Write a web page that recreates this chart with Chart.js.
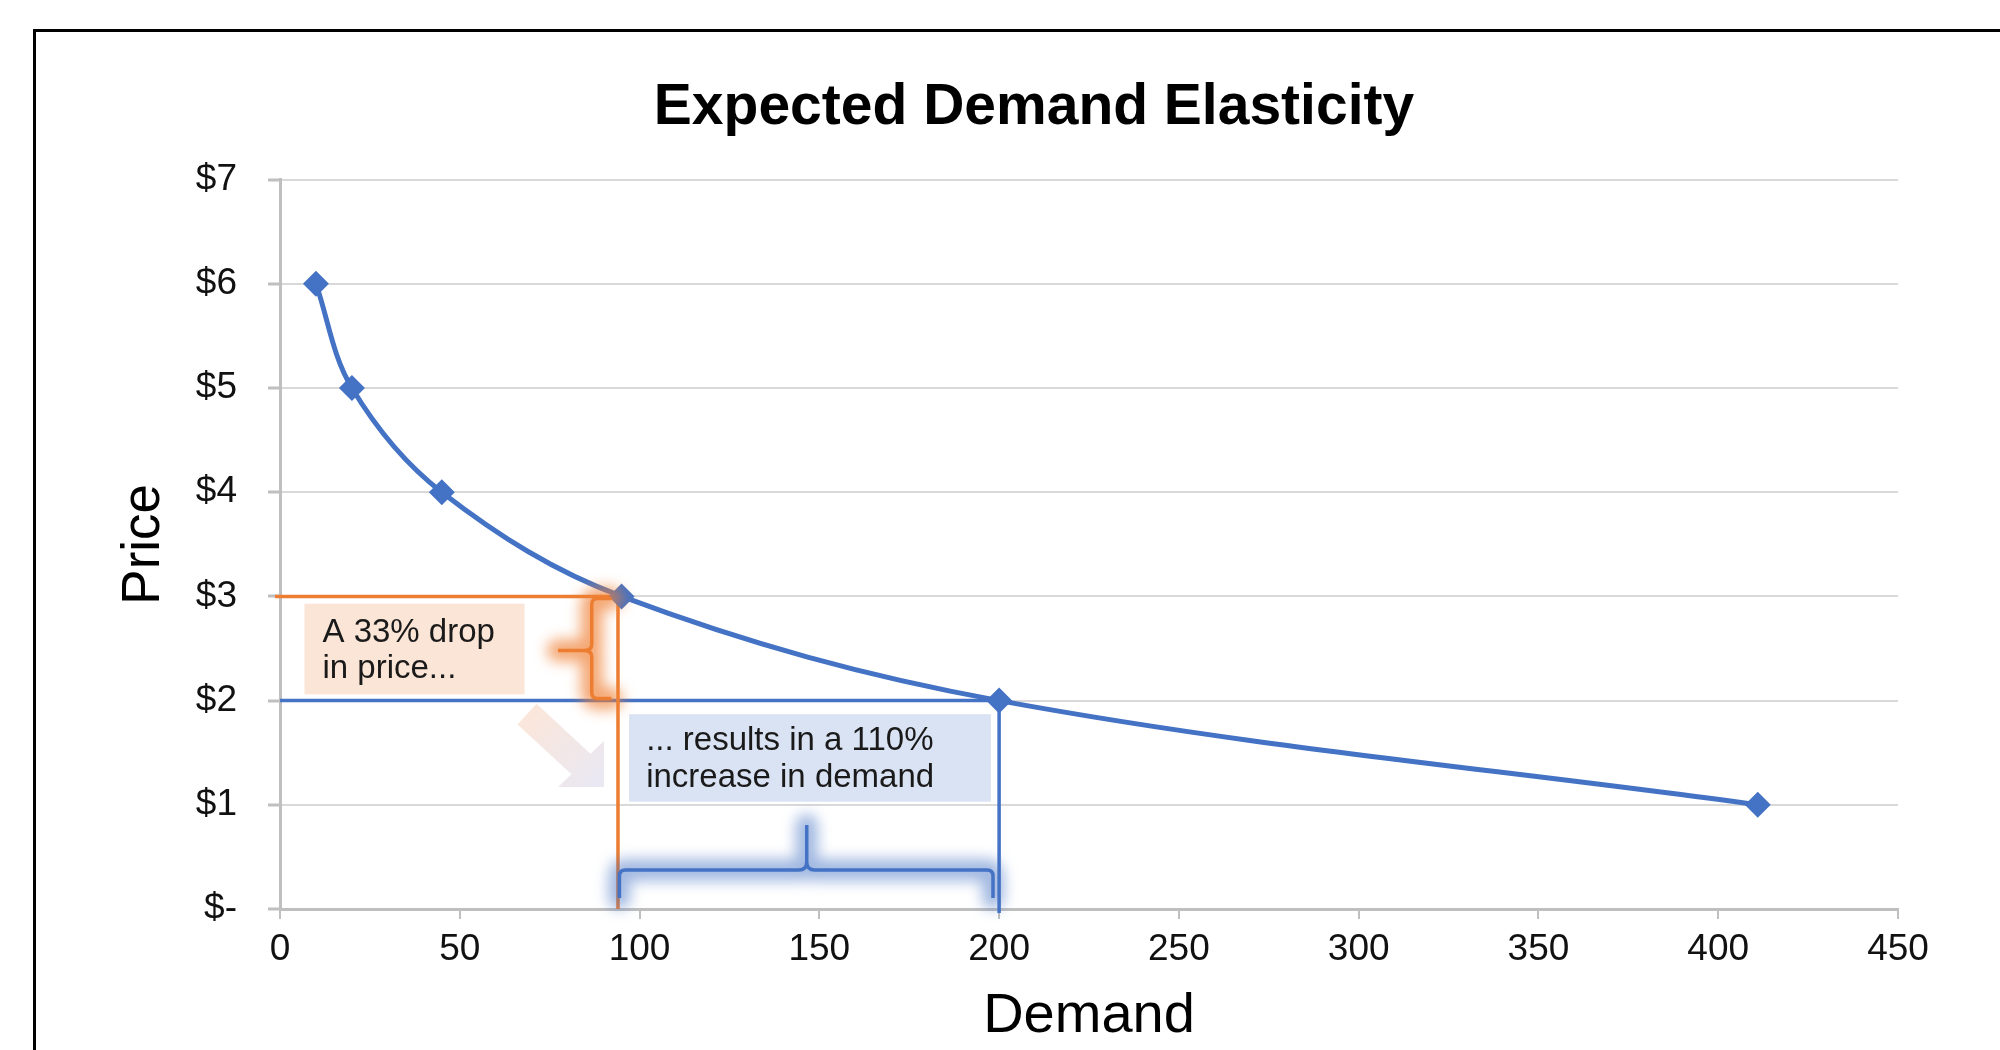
<!DOCTYPE html>
<html>
<head>
<meta charset="utf-8">
<script src="https://cdn.jsdelivr.net/npm/chart.js@4/dist/chart.umd.min.js"></script>
<style>
  html, body { margin: 0; padding: 0; background: #fff; overflow: hidden; }
  #wrap { position: absolute; left: 0; top: 0; width: 2000px; height: 1050px; }
  #frame { position: absolute; left: 33px; top: 29px; width: 2100px; height: 1100px;
           border-top: 3px solid #000; border-left: 3px solid #000; pointer-events: none; }
</style>
</head>
<body>
<div id="wrap"><canvas id="c"></canvas></div>
<div id="frame"></div>
<script>
// ---------- data ----------
const demand = [10, 20, 45, 95, 200, 411];
const price  = [6, 5, 4, 3, 2, 1];
const priceTickLabels = ['$-', '$1', '$2', '$3', '$4', '$5', '$6', '$7'];
const demandTicks = [0, 50, 100, 150, 200, 250, 300, 350, 400, 450];

// ---------- annotations (data units) ----------
const oldLevel = [94, 3];    // demand, price before the drop
const newLevel = [200, 2];   // demand, price after the drop
const dropText = ['A 33% drop', 'in price...'];
const riseText = ['... results in a 110%', 'increase in demand'];
const dropBox = [6.8, 68.0, 2.93, 2.06];     // x0, x1, yTop, yBottom
const riseBox = [97.1, 197.7, 1.87, 1.03];
const priceBrace = [86.7, 92.2, 77.3, 2.98, 2.02, 2.48];  // spineX, hookX, tipX, top, bottom, mid
const demandBrace = [94.4, 198.3, 146.5, 0.374, 0.805, 0.105]; // left, right, tipX, barY, tipTopY, endY
const arrowPts = [68.7, 1.87, 90.1, 1.17]; // tail x,y ; tip x,y

const FONT = "'Liberation Sans', Arial, Helvetica, sans-serif";
const BLUE = '#4472C4';
const ORANGE = '#ED7D31';

function vBrace(ctx, sx, hx, tx, ty, by, my) {
  const r = 6;
  ctx.beginPath();
  ctx.moveTo(hx, ty);
  ctx.lineTo(sx + r, ty);
  ctx.quadraticCurveTo(sx, ty, sx, ty + r);
  ctx.lineTo(sx, my - r);
  ctx.quadraticCurveTo(sx, my, sx - r - 2, my);
  ctx.lineTo(tx, my);
  ctx.moveTo(sx - r - 2, my);
  ctx.quadraticCurveTo(sx, my, sx, my + r);
  ctx.lineTo(sx, by - r);
  ctx.quadraticCurveTo(sx, by, sx + r, by);
  ctx.lineTo(hx, by);
}
function hBrace(ctx, lx, rx, tipx, bary, tipy, endy) {
  const r = 6;
  ctx.beginPath();
  ctx.moveTo(lx, endy);
  ctx.lineTo(lx, bary + r);
  ctx.quadraticCurveTo(lx, bary, lx + r, bary);
  ctx.lineTo(tipx - r - 2, bary);
  ctx.quadraticCurveTo(tipx, bary, tipx, bary - r - 2);
  ctx.lineTo(tipx, tipy);
  ctx.moveTo(tipx, bary - r - 2);
  ctx.quadraticCurveTo(tipx, bary, tipx + r + 2, bary);
  ctx.lineTo(rx - r, bary);
  ctx.quadraticCurveTo(rx, bary, rx, bary + r);
  ctx.lineTo(rx, endy);
}
function glowStroke(ctx, pathFn, glow, color) {
  ctx.save();
  ctx.lineJoin = 'round'; ctx.lineCap = 'round';
  ctx.filter = 'blur(7px)';
  ctx.strokeStyle = glow; ctx.lineWidth = 22;
  pathFn(); ctx.stroke();
  ctx.filter = 'none';
  ctx.strokeStyle = color; ctx.lineWidth = 3.5; ctx.lineCap = 'butt';
  pathFn(); ctx.stroke();
  ctx.restore();
}

const notesPlugin = {
  id: 'elasticityNotes',
  beforeDatasetsDraw(chart) {
    const { ctx, scales: { x, y } } = chart;
    const X = v => x.getPixelForValue(v), Y = v => y.getPixelForValue(v);
    ctx.save();
    // boxes
    ctx.fillStyle = '#FBE5D6';
    ctx.fillRect(X(dropBox[0]), Y(dropBox[2]), X(dropBox[1]) - X(dropBox[0]), Y(dropBox[3]) - Y(dropBox[2]));
    ctx.fillStyle = '#DAE3F3';
    ctx.fillRect(X(riseBox[0]), Y(riseBox[2]), X(riseBox[1]) - X(riseBox[0]), Y(riseBox[3]) - Y(riseBox[2]));
    ctx.fillStyle = '#1a1a1a';
    ctx.font = `33px ${FONT}`;
    ctx.textBaseline = 'alphabetic';
    dropText.forEach((t, i) => ctx.fillText(t, X(dropBox[0]) + 18, Y(dropBox[2]) + 38 + i * 36));
    riseText.forEach((t, i) => ctx.fillText(t, X(riseBox[0]) + 17, Y(riseBox[2]) + 36 + i * 37));
    // arrow
    const tx = X(arrowPts[0]), ty = Y(arrowPts[1]), hx = X(arrowPts[2]), hy = Y(arrowPts[3]);
    const head = 46, half = 14;
    const grad = ctx.createLinearGradient(tx, ty, hx, hy);
    grad.addColorStop(0, '#FBE6DA');
    grad.addColorStop(1, '#E8E8F4');
    ctx.fillStyle = grad;
    const mx = hx - head / 2, my = hy - head / 2;
    const dx = mx - tx, dy = my - ty, L = Math.hypot(dx, dy);
    const nx = -dy / L * half, ny = dx / L * half;
    ctx.beginPath();
    ctx.moveTo(tx + nx, ty + ny);
    ctx.lineTo(mx + nx, my + ny);
    ctx.lineTo(hx - head, hy);
    ctx.lineTo(hx, hy);
    ctx.lineTo(hx, hy - head);
    ctx.lineTo(mx - nx, my - ny);
    ctx.lineTo(tx - nx, ty - ny);
    ctx.closePath();
    ctx.fill();
    // guide lines
    ctx.lineWidth = 3.5;
    ctx.strokeStyle = BLUE;
    ctx.beginPath();
    ctx.moveTo(X(0), Y(newLevel[1])); ctx.lineTo(X(newLevel[0]), Y(newLevel[1]));
    ctx.moveTo(X(newLevel[0]), Y(newLevel[1])); ctx.lineTo(X(newLevel[0]), Y(0) + 4);
    ctx.stroke();
    ctx.strokeStyle = ORANGE;
    ctx.beginPath();
    ctx.moveTo(X(0) - 5, Y(oldLevel[1])); ctx.lineTo(X(oldLevel[0]), Y(oldLevel[1]));
    ctx.lineTo(X(oldLevel[0]), Y(0));
    ctx.stroke();
    ctx.restore();
  },
  afterDatasetsDraw(chart) {
    const { ctx, scales: { x, y } } = chart;
    const X = v => x.getPixelForValue(v), Y = v => y.getPixelForValue(v);
    const b = priceBrace;
    glowStroke(ctx, () => vBrace(ctx, X(b[0]), X(b[1]), X(b[2]), Y(b[3]), Y(b[4]), Y(b[5])),
      'rgba(240,130,55,0.7)', ORANGE);
    const d = demandBrace;
    glowStroke(ctx, () => hBrace(ctx, X(d[0]), X(d[1]), X(d[2]), Y(d[3]), Y(d[4]), Y(d[5])),
      'rgba(68,114,196,0.5)', BLUE);
  }
};

new Chart(document.getElementById('c'), {
  type: 'line',
  data: {
    datasets: [{
      data: demand.map((d, i) => ({ x: d, y: price[i] })),
      borderColor: BLUE,
      borderWidth: 5,
      tension: 0.35,
      pointStyle: 'rectRot',
      pointRadius: 13,
      pointBackgroundColor: BLUE,
      pointBorderWidth: 0,
      clip: false
    }]
  },
  options: {
    responsive: true,
    maintainAspectRatio: false,
    animation: false,
    devicePixelRatio: 1,
    layout: { padding: { top: 30, left: 68, right: 0, bottom: 0 } },
    plugins: {
      legend: { display: false },
      tooltip: { enabled: false },
      title: {
        display: true,
        text: 'Expected Demand Elasticity',
        color: '#000',
        font: { family: FONT, size: 57, weight: 'bold' },
        padding: { top: 44, bottom: 37.2 }
      }
    },
    scales: {
      x: {
        type: 'linear',
        min: demandTicks[0],
        max: demandTicks[demandTicks.length - 1],
        afterBuildTicks: s => { s.ticks = demandTicks.map(v => ({ value: v })); },
        ticks: { color: '#111', font: { family: FONT, size: 37 }, padding: 9, maxRotation: 0, autoSkip: false },
        grid: { drawOnChartArea: false, drawTicks: true, tickLength: 10, color: '#BFBFBF', lineWidth: 2 },
        border: { color: '#BFBFBF', width: 3 },
        title: { display: true, text: 'Demand', color: '#000', font: { family: FONT, size: 56 }, padding: { top: 8.4, bottom: 0 } },
        afterFit: s => { s.height = 141; }
      },
      y: {
        min: 0, max: 7,
        ticks: { stepSize: 1, color: '#111', font: { family: FONT, size: 37 }, padding: 31,
                 callback: v => priceTickLabels[v] },
        grid: { color: '#D9D9D9', lineWidth: 2, tickLength: 12, tickColor: '#BFBFBF', tickWidth: 3 },
        border: { color: '#BFBFBF', width: 3 },
        title: { display: true, text: 'Price', color: '#000', font: { family: FONT, size: 53 }, padding: { top: 44.2, bottom: 0 } },
        afterFit: s => { s.width = 212; }
      },
      y2: {
        position: 'right', min: 0, max: 7, display: true,
        grid: { display: false }, ticks: { display: false }, border: { display: false },
        afterFit: s => { s.width = 102; }
      }
    }
  },
  plugins: [notesPlugin]
});
</script>
</body>
</html>
